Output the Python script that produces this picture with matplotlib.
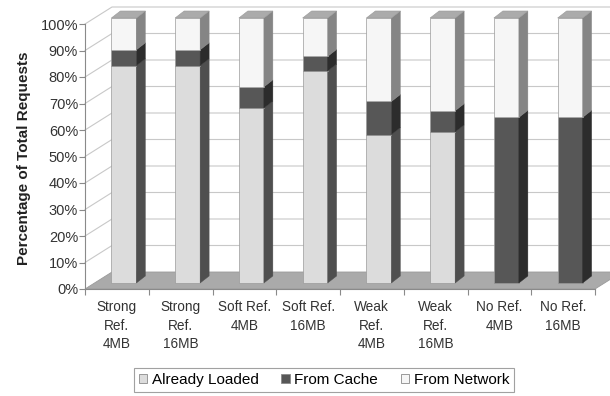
import matplotlib
matplotlib.use("Agg")
import matplotlib.pyplot as plt
from matplotlib.patches import Polygon, Patch
import numpy as np

plt.rcParams['font.family'] = ['Liberation Sans', 'DejaVu Sans']

categories = ["Strong\nRef.\n4MB", "Strong\nRef.\n16MB", "Soft Ref.\n4MB", "Soft Ref.\n16MB",
              "Weak\nRef.\n4MB", "Weak\nRef.\n16MB", "No Ref.\n4MB", "No Ref.\n16MB"]
already_loaded = [82, 82, 66, 80, 56, 57, 0, 0]
from_cache = [6, 6, 8, 5.5, 12.5, 8, 62.5, 62.5]
from_network = [12, 12, 26, 14.5, 31.5, 35, 37.5, 37.5]
series_names = ["Already Loaded", "From Cache", "From Network"]
y_ticks = [0, 10, 20, 30, 40, 50, 60, 70, 80, 90, 100]

# face colours: front, side, top
front_colors = ["#dcdcdc", "#575757", "#f6f6f6"]
side_colors = ["#4f4f4f", "#2c2c2c", "#858585"]
top_colors = ["#bdbdbd", "#3a3a3a", "#ababab"]

W, H, DPI = 610, 396, 100
fig = plt.figure(figsize=(W / DPI, H / DPI), dpi=DPI)
# front plane of the 3-D plot box
ax_l, ax_r, ax_b, ax_t = 85, 595, 289, 24
ax = fig.add_axes([ax_l / W, (H - ax_b) / H, (ax_r - ax_l) / W, (ax_b - ax_t) / H])
n = len(categories)
ax.set_xlim(-0.5, n - 0.5)
ax.set_ylim(0, 100)

px_x = (ax_r - ax_l) / n          # pixels per category
px_y = (ax_b - ax_t) / 100.0      # pixels per percent

# oblique depth offsets (in data units)
wall_dx, wall_dy = 27 / px_x, 17 / px_y
bar_dx, bar_dy = 7 / px_x, 6 / px_y
bar_w = 25 / px_x
side_dx, side_dy = 9 / px_x, 7 / px_y

grid_col = "#c8c8c8"
x0, x1 = -0.5, n - 0.5

# floor
floor = Polygon([(x0, 0), (x1, 0), (x1 + wall_dx, wall_dy), (x0 + wall_dx, wall_dy)],
                closed=True, facecolor="#aaaaaa", edgecolor="#9a9a9a", lw=0.6,
                clip_on=False, zorder=1)
ax.add_patch(floor)

# gridlines on side and back walls
for v in y_ticks[1:]:
    ax.plot([x0, x0 + wall_dx, x1 + wall_dx], [v, v + wall_dy, v + wall_dy],
            color=grid_col, lw=0.8, clip_on=False, zorder=0.5)

# stacked 3-D columns
xs = np.arange(n) + bar_dx
series = [already_loaded, from_cache, from_network]
bottoms = np.zeros(n)
for k, vals in enumerate(series):
    vals = np.asarray(vals, dtype=float)
    ax.bar(xs, vals, width=bar_w, bottom=bar_dy + bottoms, color=front_colors[k],
           edgecolor="#9a9a9a", linewidth=0.5, zorder=3, clip_on=False)
    for i in range(n):
        if vals[i] <= 0:
            continue
        xr = xs[i] + bar_w / 2
        yb = bar_dy + bottoms[i]
        yt = yb + vals[i]
        side = Polygon([(xr, yb), (xr + side_dx, yb + side_dy), (xr + side_dx, yt + side_dy), (xr, yt)],
                       closed=True, facecolor=side_colors[k], edgecolor=side_colors[k], lw=0.3,
                       zorder=3, clip_on=False)
        ax.add_patch(side)
    bottoms = bottoms + vals

# column tops
for i in range(n):
    xl = xs[i] - bar_w / 2
    xr = xs[i] + bar_w / 2
    yt = bar_dy + bottoms[i]
    top = Polygon([(xl, yt), (xr, yt), (xr + side_dx, yt + side_dy), (xl + side_dx, yt + side_dy)],
                  closed=True, facecolor=top_colors[2], edgecolor="#9a9a9a", lw=0.4,
                  zorder=3, clip_on=False)
    ax.add_patch(top)

# axes styling
for s in ["top", "right"]:
    ax.spines[s].set_visible(False)
ax.spines["left"].set_color("#8a8a8a")
ax.spines["bottom"].set_color("#8a8a8a")
ax.spines["left"].set_linewidth(0.8)
ax.spines["bottom"].set_linewidth(0.8)
ax.spines["left"].set_zorder(4)
ax.spines["bottom"].set_zorder(4)

ax.set_yticks(y_ticks)
ax.set_yticklabels([f"{v}%" for v in y_ticks], fontsize=10.5, color="#333333")
ax.tick_params(axis="y", length=4, width=0.8, color="#8a8a8a", pad=1)

ax.set_xticks(np.arange(n))
ax.set_xticklabels(categories, fontsize=9.8, color="#333333", linespacing=1.4)
ax.tick_params(axis="x", length=0, pad=8)
ax.set_xticks(np.arange(n + 1) - 0.5, minor=True)
ax.tick_params(axis="x", which="minor", length=4, width=0.8, color="#8a8a8a")
ax.set_facecolor("none")

fig.text(24 / W, (H - 158) / H, "Percentage of Total Requests", rotation=90,
         ha="center", va="center", fontsize=11, fontweight="bold", color="#222222")

handles = [Patch(facecolor=front_colors[k], edgecolor="#8a8a8a", linewidth=0.6)
           for k in range(3)]
leg = fig.legend(handles, series_names, loc="center", bbox_to_anchor=(324 / W, (H - 380) / H),
                 ncol=3, fontsize=11, frameon=True, fancybox=False, handlelength=0.55,
                 handleheight=0.55, handletextpad=0.3, columnspacing=1.5, borderpad=0.3)
leg.get_frame().set_edgecolor("#8a8a8a")
leg.get_frame().set_linewidth(0.8)

fig.savefig("out.png", dpi=DPI)
